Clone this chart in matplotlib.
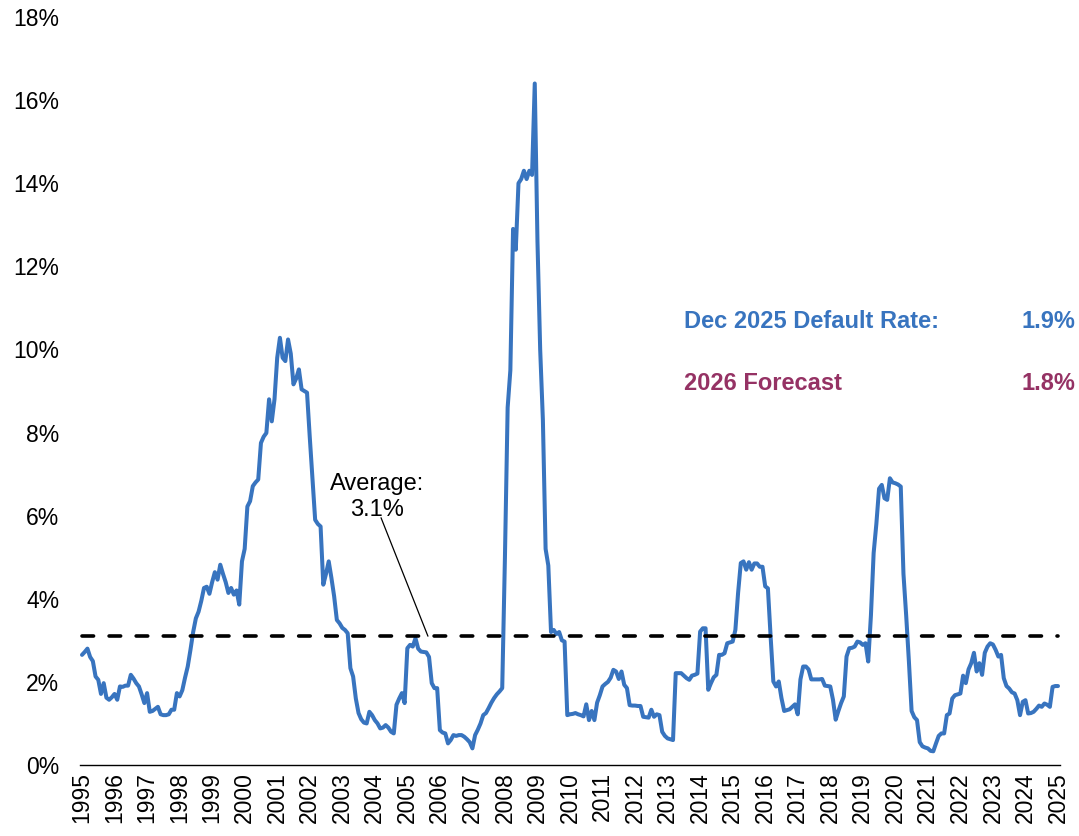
import matplotlib
matplotlib.use("Agg")
import matplotlib.pyplot as plt
import numpy as np

plt.rcParams['font.family'] = ['Liberation Sans', 'DejaVu Sans']

# Monthly default rate (%), one value per month, first point at the "1995" label
rates_1995_1999 = [
    2.65, 2.72, 2.80, 2.60, 2.50, 2.13, 2.05, 1.71, 1.97, 1.62, 1.57, 1.63,
    1.71, 1.57, 1.89, 1.88, 1.91, 1.91, 2.17, 2.08, 1.97, 1.89, 1.70, 1.49,
    1.73, 1.28, 1.30, 1.35, 1.40, 1.22, 1.20, 1.20, 1.22, 1.33, 1.33, 1.73,
    1.65, 1.80, 2.10, 2.37, 2.77, 3.20, 3.53, 3.69, 3.95, 4.26, 4.29, 4.12,
    4.40, 4.64, 4.46, 4.82, 4.60, 4.40, 4.14, 4.26, 4.10, 4.20, 3.86, 4.90,
]
rates_2000_2004 = [
    5.20, 6.22, 6.35, 6.71, 6.80, 6.87, 7.75, 7.90, 7.99, 8.80, 8.27, 8.80,
    9.80, 10.28, 9.80, 9.72, 10.24, 9.90, 9.16, 9.30, 9.52, 9.04, 9.00, 8.96,
    7.90, 6.90, 5.90, 5.80, 5.74, 4.34, 4.60, 4.90, 4.50, 4.06, 3.49, 3.41,
    3.30, 3.25, 3.17, 2.33, 2.13, 1.60, 1.25, 1.10, 1.02, 1.00, 1.28, 1.20,
    1.08, 1.00, 0.88, 0.90, 0.96, 0.90, 0.80, 0.76, 1.45, 1.60, 1.73, 1.49,
]
rates_2005_2009 = [
    2.81, 2.89, 2.85, 3.05, 2.80, 2.73, 2.72, 2.71, 2.60, 1.97, 1.85, 1.85,
    0.84, 0.78, 0.76, 0.52, 0.60, 0.72, 0.70, 0.72, 0.72, 0.68, 0.62, 0.55,
    0.40, 0.72, 0.85, 1.00, 1.20, 1.25, 1.37, 1.50, 1.61, 1.70, 1.77, 1.85,
    5.00, 8.60, 9.50, 12.90, 12.40, 14.00, 14.10, 14.30, 14.10, 14.30, 14.20, 16.40,
    12.60, 10.00, 8.30, 5.20, 4.80, 3.20, 3.25, 3.15, 3.20, 3.00, 2.97, 1.20,
]
rates_2010_2014 = [
    1.22, 1.23, 1.25, 1.22, 1.20, 1.17, 1.46, 1.08, 1.30, 1.08, 1.50, 1.68,
    1.89, 1.95, 2.00, 2.10, 2.29, 2.25, 2.07, 2.25, 1.93, 1.85, 1.44, 1.43,
    1.43, 1.42, 1.42, 1.16, 1.15, 1.14, 1.33, 1.16, 1.22, 1.20, 0.80, 0.70,
    0.64, 0.62, 0.60, 2.21, 2.21, 2.21, 2.15, 2.09, 2.05, 2.15, 2.17, 2.20,
    3.21, 3.29, 3.29, 1.81, 1.97, 2.11, 2.17, 2.65, 2.65, 2.69, 2.93, 2.95,
]
rates_2015_2019 = [
    2.97, 3.25, 4.14, 4.86, 4.90, 4.70, 4.88, 4.70, 4.85, 4.85, 4.77, 4.77,
    4.30, 4.25, 3.09, 2.01, 1.89, 2.01, 1.61, 1.30, 1.32, 1.34, 1.40, 1.46,
    1.22, 2.06, 2.37, 2.37, 2.30, 2.06, 2.06, 2.06, 2.06, 2.07, 1.91, 1.90,
    1.89, 1.57, 1.09, 1.30, 1.49, 1.65, 2.61, 2.81, 2.82, 2.85, 2.97, 2.95,
    2.89, 2.93, 2.49, 3.60, 5.10, 5.80, 6.65, 6.74, 6.42, 6.38, 6.90, 6.80,
]
rates_2020_2025 = [
    6.78, 6.75, 6.70, 4.60, 3.60, 2.50, 1.30, 1.15, 1.08, 0.55, 0.45, 0.42,
    0.40, 0.34, 0.33, 0.52, 0.70, 0.76, 0.76, 1.20, 1.24, 1.60, 1.68, 1.70,
    1.72, 2.15, 1.97, 2.30, 2.45, 2.70, 2.25, 2.45, 2.17, 2.70, 2.85, 2.93,
    2.90, 2.77, 2.61, 2.65, 2.09, 1.90, 1.84, 1.75, 1.72, 1.56, 1.20, 1.52,
    1.56, 1.24, 1.25, 1.28, 1.35, 1.43, 1.40, 1.48, 1.45, 1.40, 1.88, 1.90,
    1.90,
]
year_labels = [str(y) for y in range(1995, 2026)]
average_rate = 3.1
current_label, current_value = "Dec 2025 Default Rate:", "1.9%"
forecast_label, forecast_value = "2026 Forecast", "1.8%"

rates = np.array(rates_1995_1999 + rates_2000_2004 + rates_2005_2009 +
                 rates_2010_2014 + rates_2015_2019 + rates_2020_2025)
x = np.arange(len(rates))

W, H = 1079, 836
fig = plt.figure(figsize=(W / 100, H / 100), dpi=100)
ax = fig.add_axes([80 / W, (H - 765) / H, (1060 - 80) / W, (765 - 17) / H])

blue = '#3874BF'
maroon = '#953264'

ax.plot(x, rates, color=blue, lw=2.9, solid_joinstyle='round',
        solid_capstyle='round', zorder=3)
ax.plot([x[0], x[-1]], [average_rate, average_rate], color='black', lw=2.6,
        dashes=(3.2, 4.3), dash_capstyle='round', zorder=4)

ax.set_xlim(-0.74, len(rates) - 1 + 0.74)
ax.set_ylim(0, 18)
ax.set_yticks(np.arange(0, 19, 2))
ax.set_yticklabels([f"{v}%" for v in range(0, 19, 2)], fontsize=16.5)
ax.set_xticks(np.arange(0, len(rates), 12))
ax.set_xticklabels(year_labels, rotation=90, fontsize=16.5)
ax.tick_params(axis='y', length=0, pad=15)
ax.tick_params(axis='x', length=0, pad=5)
for s in ['top', 'right', 'left']:
    ax.spines[s].set_visible(False)
ax.spines['bottom'].set_linewidth(1.0)
ax.spines['bottom'].set_color('black')

ax.text(108.8, 6.45, "Average:\n3.1%", ha='center', va='center',
        fontsize=17, linespacing=1.25)
ax.annotate("", xy=(127.6, average_rate), xytext=(110.3, 5.95),
            arrowprops=dict(arrowstyle='-', color='black', lw=0.9,
                            shrinkA=0, shrinkB=0))

fig.text(684 / W, (H - 322) / H, current_label, color=blue, fontsize=17,
         fontweight='bold', ha='left', va='center')
fig.text(1075 / W, (H - 322) / H, current_value, color=blue, fontsize=17,
         fontweight='bold', ha='right', va='center')
fig.text(684 / W, (H - 383) / H, forecast_label, color=maroon, fontsize=17,
         fontweight='bold', ha='left', va='center')
fig.text(1075 / W, (H - 383) / H, forecast_value, color=maroon, fontsize=17,
         fontweight='bold', ha='right', va='center')

fig.savefig("out.png", dpi=100)
